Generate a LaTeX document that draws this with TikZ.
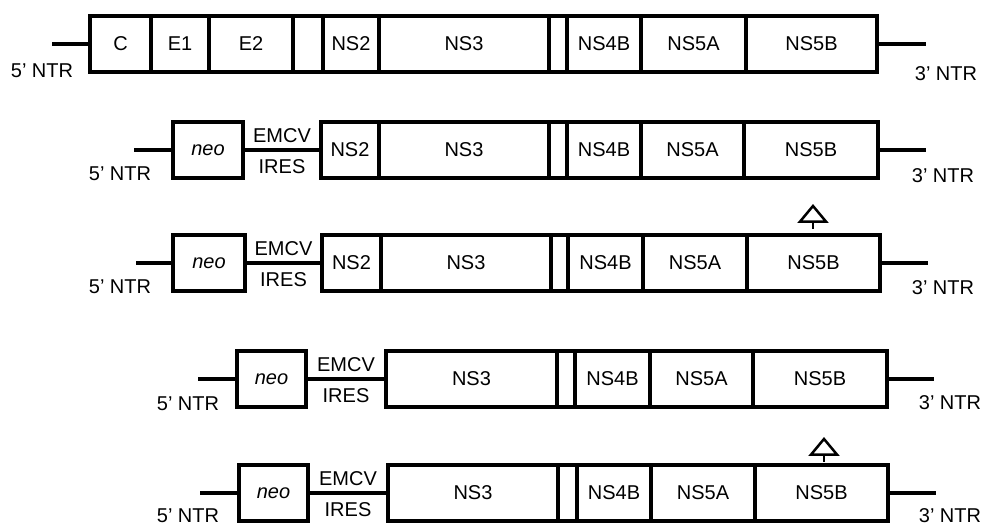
\documentclass[tikz,border=0pt]{standalone}
\usepackage{fontspec}
\setmainfont{Liberation Sans}
\usetikzlibrary{arrows.meta,positioning}

\begin{document}
\begin{tikzpicture}[
  x=1pt,y=-1pt,
  seg/.style={draw,line width=4pt,minimum height=56pt,inner sep=0pt,outer sep=0pt,font=\fontsize{20}{23}\selectfont},
  tail/.style={line width=4pt},
  lbl/.style={inner sep=0pt,font=\fontsize{20}{23}\selectfont},
  site/.style={line width=2.5pt,-{Triangle[open,width=31pt,length=19pt]}}
]
  \useasboundingbox (0,0) rectangle (983,526);

  % full genome
  \node[seg,minimum width=61pt,anchor=west] (r1c) at (90,44) {C};
  \node[seg,minimum width=58pt,right=0pt of r1c] (r1e1) {E1};
  \node[seg,minimum width=84pt,right=0pt of r1e1] (r1e2) {E2};
  \node[seg,minimum width=30pt,right=0pt of r1e2] (r1p7) {};
  \node[seg,minimum width=56pt,right=0pt of r1p7] (r1ns2) {NS2};
  \node[seg,minimum width=170pt,right=0pt of r1ns2] (r1ns3) {NS3};
  \node[seg,minimum width=18pt,right=0pt of r1ns3] (r1ns4a) {};
  \node[seg,minimum width=74pt,right=0pt of r1ns4a] (r1ns4b) {NS4B};
  \node[seg,minimum width=105pt,right=0pt of r1ns4b] (r1ns5a) {NS5A};
  \node[seg,minimum width=131pt,right=0pt of r1ns5a] (r1ns5b) {NS5B};
  \coordinate (r1l) at (52,44);
  \coordinate (r1r) at (926,44);
  \draw[tail] (r1l) -- (r1c);
  \draw[tail] (r1ns5b) -- (r1r);
  \node[lbl] (r1five) at (42,71) {5’ NTR};
  \node[lbl] (r1three) at (946,74) {3’ NTR};

  % replicon with NS2
  \node[seg,minimum width=70pt,anchor=west] (r2neo) at (173,150) {\itshape neo};
  \node[seg,minimum width=58pt,anchor=west] (r2ns2) at (321,150) {NS2};
  \node[seg,minimum width=170pt,right=0pt of r2ns2] (r2ns3) {NS3};
  \node[seg,minimum width=18pt,right=0pt of r2ns3] (r2ns4a) {};
  \node[seg,minimum width=74pt,right=0pt of r2ns4a] (r2ns4b) {NS4B};
  \node[seg,minimum width=103pt,right=0pt of r2ns4b] (r2ns5a) {NS5A};
  \node[seg,minimum width=134pt,right=0pt of r2ns5a] (r2ns5b) {NS5B};
  \coordinate (r2l) at (134,150);
  \coordinate (r2r) at (926,150);
  \draw[tail] (r2l) -- (r2neo);
  \draw[tail] (r2neo) -- node[lbl,above=5pt]{EMCV} node[lbl,below=8pt]{IRES} (r2ns2);
  \draw[tail] (r2ns5b) -- (r2r);
  \node[lbl] (r2five) at (120,174) {5’ NTR};
  \node[lbl] (r2three) at (943,176) {3’ NTR};

  % replicon with NS2, adapted
  \node[seg,minimum width=72pt,anchor=west] (r3neo) at (173,263) {\itshape neo};
  \node[seg,minimum width=59pt,anchor=west] (r3ns2) at (322,263) {NS2};
  \node[seg,minimum width=170pt,right=0pt of r3ns2] (r3ns3) {NS3};
  \node[seg,minimum width=17pt,right=0pt of r3ns3] (r3ns4a) {};
  \node[seg,minimum width=75pt,right=0pt of r3ns4a] (r3ns4b) {NS4B};
  \node[seg,minimum width=104pt,right=0pt of r3ns4b] (r3ns5a) {NS5A};
  \node[seg,minimum width=133pt,right=0pt of r3ns5a] (r3ns5b) {NS5B};
  \coordinate (r3l) at (136,263);
  \coordinate (r3r) at (928,263);
  \draw[tail] (r3l) -- (r3neo);
  \draw[tail] (r3neo) -- node[lbl,above=5pt]{EMCV} node[lbl,below=8pt]{IRES} (r3ns2);
  \draw[tail] (r3ns5b) -- (r3r);
  \node[lbl] (r3five) at (120,287) {5’ NTR};
  \node[lbl] (r3three) at (943,288) {3’ NTR};
  \coordinate (r3m) at (813,229);
  \coordinate (r3t) at (813,204);
  \draw[site] (r3m) -- (r3t);

  % replicon without NS2
  \node[seg,minimum width=69pt,anchor=west] (r4neo) at (237,379) {\itshape neo};
  \node[seg,minimum width=171pt,anchor=west] (r4ns3) at (386,379) {NS3};
  \node[seg,minimum width=18pt,right=0pt of r4ns3] (r4ns4a) {};
  \node[seg,minimum width=75pt,right=0pt of r4ns4a] (r4ns4b) {NS4B};
  \node[seg,minimum width=103pt,right=0pt of r4ns4b] (r4ns5a) {NS5A};
  \node[seg,minimum width=134pt,right=0pt of r4ns5a] (r4ns5b) {NS5B};
  \coordinate (r4l) at (198,379);
  \coordinate (r4r) at (934,379);
  \draw[tail] (r4l) -- (r4neo);
  \draw[tail] (r4neo) -- node[lbl,above=5pt]{EMCV} node[lbl,below=8pt]{IRES} (r4ns3);
  \draw[tail] (r4ns5b) -- (r4r);
  \node[lbl] (r4five) at (188,404) {5’ NTR};
  \node[lbl] (r4three) at (950,403) {3’ NTR};

  % replicon without NS2, adapted
  \node[seg,minimum width=69pt,anchor=west] (r5neo) at (239,493) {\itshape neo};
  \node[seg,minimum width=170pt,anchor=west] (r5ns3) at (388,493) {NS3};
  \node[seg,minimum width=19pt,right=0pt of r5ns3] (r5ns4a) {};
  \node[seg,minimum width=74pt,right=0pt of r5ns4a] (r5ns4b) {NS4B};
  \node[seg,minimum width=104pt,right=0pt of r5ns4b] (r5ns5a) {NS5A};
  \node[seg,minimum width=133pt,right=0pt of r5ns5a] (r5ns5b) {NS5B};
  \coordinate (r5l) at (200,493);
  \coordinate (r5r) at (936,493);
  \draw[tail] (r5l) -- (r5neo);
  \draw[tail] (r5neo) -- node[lbl,above=5pt]{EMCV} node[lbl,below=8pt]{IRES} (r5ns3);
  \draw[tail] (r5ns5b) -- (r5r);
  \node[lbl] (r5five) at (188,516) {5’ NTR};
  \node[lbl] (r5three) at (950,516) {3’ NTR};
  \coordinate (r5m) at (824,462);
  \coordinate (r5t) at (824,437);
  \draw[site] (r5m) -- (r5t);
\end{tikzpicture}
\end{document}
